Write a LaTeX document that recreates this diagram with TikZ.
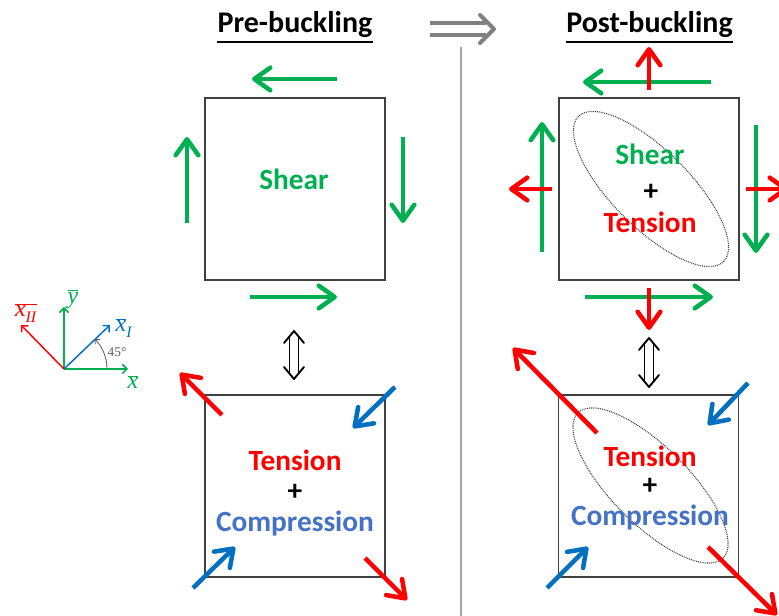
\documentclass[tikz,border=0pt]{standalone}
\usepackage{fontspec}
\setmainfont{Carlito}
\newfontfamily\seriffont{Liberation Serif}
\usetikzlibrary{arrows.meta}
\definecolor{cgreen}{HTML}{00B050}
\definecolor{cred}{HTML}{FF0000}
\definecolor{cblue}{HTML}{0070C0}
\definecolor{tblue}{HTML}{4472C4}
\definecolor{boxgray}{HTML}{404040}
\definecolor{arcgray}{HTML}{595959}
\definecolor{bigarrow}{HTML}{808080}
\definecolor{divgray}{HTML}{A6A6A6}
\newcommand{\axv}[1]{\hbox{\seriffont\itshape\fontsize{18}{18}\selectfont #1}}
\newcommand{\axs}[1]{\hbox{\seriffont\itshape\fontsize{12}{12}\selectfont #1}}
\begin{document}
\begin{tikzpicture}[x=0.75pt,y=-0.75pt,
  force/.style={line width=3.4pt, -{Straight Barb[length=12pt,width=17pt,round]}},
  gforce/.style={force, draw=cgreen},
  rforce/.style={force, draw=cred},
  bforce/.style={force, draw=cblue},
  panel/.style={draw=boxgray, line width=1.1pt, minimum width=135pt, minimum height=136.5pt, inner sep=0pt},
  lbl/.style={font=\bfseries\fontsize{22}{22}\selectfont, inner sep=0pt, anchor=base},
  title/.style={font=\bfseries\fontsize{22.5}{22.5}\selectfont, inner sep=0pt, anchor=base},
  axis/.style={line width=1.1pt, -{Straight Barb[length=3.5pt,width=7pt]}},
  zone/.style={draw=black!75, dash pattern=on 0.7pt off 0.7pt, line width=0.8pt},
  equiv/.style={draw=black, line width=1.4pt, line cap=round, line join=miter}
]
\path[use as bounding box, clip] (0,0) rectangle (779,616);

% titles
\node[title] (pretitle) at (295,33) {Pre-buckling};
\node[title] (posttitle) at (649.5,33) {Post-buckling};
\draw[line width=1.5pt] ([yshift=-6.5pt]pretitle.base west) -- ([yshift=-6.5pt]pretitle.base east);
\draw[line width=1.5pt] ([yshift=-6.8pt]posttitle.base west) -- ([yshift=-6.8pt]posttitle.base east);

% big implication arrow
\coordinate (ia1) at (430,23);
\coordinate (ia2) at (486,23);
\coordinate (ib1) at (430,35);
\coordinate (ib2) at (486,35);
\coordinate (ic1) at (480,15);
\coordinate (ic2) at (494,29);
\coordinate (ic3) at (480,43);
\draw[bigarrow, line width=3pt] (ia1) -- (ia2) (ib1) -- (ib2);
\draw[bigarrow, line width=3pt, line cap=round, line join=round] (ic1) -- (ic2) -- (ic3);

% divider
\coordinate (d1) at (461,47);
\coordinate (d2) at (461,616);
\draw[divgray, line width=0.8pt] (d1) -- (d2);

% panels
\node[panel] (preS) at (295,189) {};
\node[panel] (postS) at (649,189) {};
\node[panel] (preT) at (295,486) {};
\node[panel] (postT) at (648.5,486) {};

% ellipses
\draw[zone, rotate around={-45:(651,189)}] (651,189) ellipse [x radius=77pt, y radius=29pt];
\draw[zone, rotate around={-45:(650.5,485.5)}] (650.5,485.5) ellipse [x radius=77pt, y radius=29pt];

% pre-buckling shear arrows
\draw[gforce] (337,79) -- (252,79);
\draw[gforce] (250,297) -- (337,297);
\draw[gforce] (187,223) -- (187,137);
\draw[gforce] (403,137) -- (403,223);

% post-buckling shear + tension arrows
\draw[gforce] (711,82) -- (583,82);
\draw[rforce] (649,90) -- (649,47);
\draw[gforce] (542,252) -- (542,122);
\draw[rforce] (552,189) -- (509,189);
\draw[gforce] (756,125) -- (756,253);
\draw[rforce] (746,189) -- (788,189);
\draw[gforce] (585,297) -- (713,297);
\draw[rforce] (649,288) -- (649,330);

% pre-buckling tension/compression arrows
\draw[rforce] (222,415) -- (180,373);
\draw[rforce] (365,558) -- (407,600);
\draw[bforce] (395,387) -- (353,428);
\draw[bforce] (193,588) -- (235,547);

% post-buckling tension/compression arrows
\draw[rforce] (597,433) -- (513,348);
\draw[rforce] (708,547) -- (777,615);
\draw[bforce] (748,383) -- (708,425);
\draw[bforce] (547,588) -- (588,547);

% labels
\node[lbl, text=cgreen] (t1) at (294,190) {Shear};
\node[lbl, text=cgreen] (t2) at (650,165) {Shear};
\node[lbl] (t3) at (651,201) {+};
\node[lbl, text=cred] (t4) at (650,233) {Tension};
\node[lbl, text=cred] (t5) at (295,471) {Tension};
\node[lbl] (t6) at (295,501) {+};
\node[lbl, text=tblue] (t7) at (295,532) {Compression};
\node[lbl, text=cred] (t8) at (650,467) {Tension};
\node[lbl] (t9) at (650,495) {+};
\node[lbl, text=tblue] (t10) at (650,526) {Compression};

% equivalence arrows
\foreach \cx/\ty/\by [count=\i] in {294/331/379, 649/338/387}{
  \draw[equiv] (\cx-4.5,\ty+5) -- (\cx-4.5,\by-5);
  \draw[equiv] (\cx+4.5,\ty+5) -- (\cx+4.5,\by-5);
  \draw[equiv, line join=round] (\cx-10,\ty+12) -- (\cx,\ty) -- (\cx+10,\ty+12);
  \draw[equiv, line join=round] (\cx-10,\by-12) -- (\cx,\by) -- (\cx+10,\by-12);
}

% coordinate axes
\coordinate (O) at (64,369);
\coordinate (xe) at (128,369);
\coordinate (ye) at (64,307);
\coordinate (x1e) at (110,325);
\coordinate (x2e) at (21,325);
\draw[axis, cgreen] (O) -- (xe);
\draw[axis, cgreen] (O) -- (ye);
\draw[axis, cblue] (O) -- (x1e);
\draw[axis, cred] (O) -- (x2e);
\draw[arcgray, line width=0.6pt, -{Straight Barb[length=2.5pt,width=5pt]}] (107,369) arc[start angle=0, end angle=44, radius=32.25pt];
\node[text=arcgray, font=\seriffont\fontsize{10}{10}\selectfont, inner sep=0pt] (ang) at (117,352) {45°};
\node[text=cgreen, inner sep=0pt] (lx) at (133,382) {$\overline{\axv{x}}$};
\node[text=cgreen, inner sep=0pt] (ly) at (73,299) {$\overline{\axv{y}}$};
\node[text=cblue, inner sep=0pt] (lx1) at (124,328) {$\overline{\axv{x}}_{\axs{I}}$};
\node[text=cred, inner sep=0pt] (lx2) at (26,313) {$\overline{\axv{x}_{\axs{II}}}$};
\end{tikzpicture}
\end{document}
